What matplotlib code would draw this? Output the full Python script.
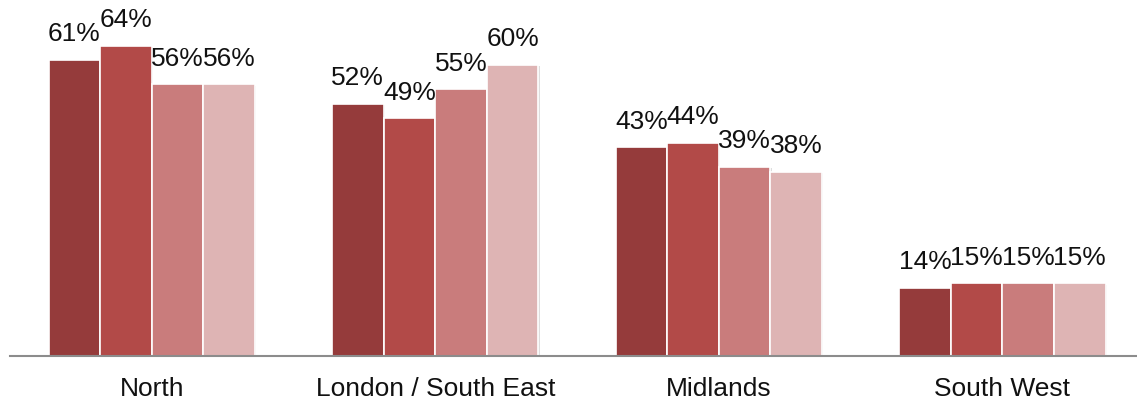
import matplotlib
matplotlib.use("Agg")
import matplotlib.pyplot as plt
import matplotlib.patheffects as pe
import numpy as np

# Datos
regiones = ["North", "London / South East", "Midlands", "South West"]
serie_1 = [61, 52, 43, 14]
serie_2 = [64, 49, 44, 15]
serie_3 = [56, 55, 39, 15]
serie_4 = [56, 60, 38, 15]
colores = ["#953B3B", "#B24A48", "#C97C7C", "#DEB4B4"]

plt.rcParams['font.family'] = ['Liberation Sans', 'DejaVu Sans']

fig = plt.figure(figsize=(11.37, 4.03), dpi=100)
ax = fig.add_axes([10 / 1137, 47 / 403, 1 - 10 / 1137, 1 - 47 / 403])

x = np.arange(len(regiones))
ancho = 0.182
series = [serie_1, serie_2, serie_3, serie_4]
sombra = [pe.SimplePatchShadow(offset=(1, -1), shadow_rgbFace='#aaaaaa', alpha=0.4), pe.Normal()]

for i, (valores, color) in enumerate(zip(series, colores)):
    pos = x + (i - 1.5) * ancho
    barras = ax.bar(pos, valores, width=ancho, color=color, edgecolor='white',
                    linewidth=1.2, zorder=2)
    for b in barras:
        b.set_path_effects(sombra)
    for xp, v in zip(pos, valores):
        ax.annotate(f"{v}%", (xp, v), xytext=(0, 18.5), textcoords='offset points',
                    ha='center', va='center', fontsize=19, color='#111111')

ax.set_xlim(-0.5, 3.475)
ax.set_ylim(0, 73.4)
ax.set_xticks(x)
ax.set_xticklabels(regiones, fontsize=19, color='#111111')
ax.tick_params(axis='x', length=0, pad=15)
ax.set_yticks([])
for lado in ['top', 'right', 'left']:
    ax.spines[lado].set_visible(False)
ax.spines['bottom'].set_color('#8C8C8C')
ax.spines['bottom'].set_linewidth(1.5)
ax.spines['bottom'].set_zorder(3)

fig.savefig("out.png", dpi=100)
plt.close(fig)
